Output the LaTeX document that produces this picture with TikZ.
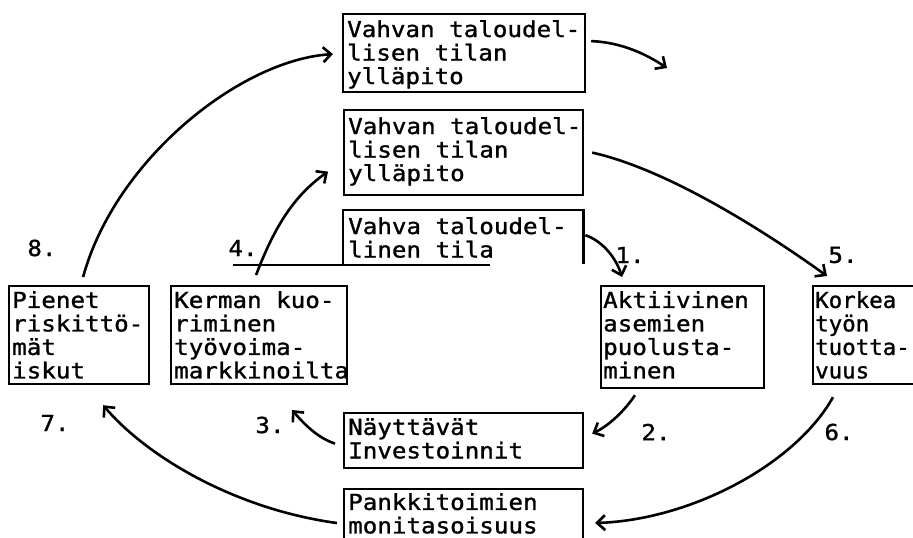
\documentclass[tikz,border=0pt]{standalone}
\usepackage{fontspec}
\newfontfamily\plotfont[FakeStretch=1.1,FakeBold=1.2]{DejaVu Sans Mono}
\newfontfamily\plotnarrow[FakeStretch=1.02,FakeBold=1.2]{DejaVu Sans Mono}
\usetikzlibrary{arrows.meta}
\tikzset{
  box/.style={draw, line width=2.2pt, anchor=north west, inner sep=0pt},
  txt/.style={anchor=north west, align=left, inner sep=0pt, font=\plotfont\fontsize{22}{23.5}\selectfont},
  num/.style={inner sep=0pt, font=\plotfont\fontsize{22}{24}\selectfont},
  arr/.style={line width=2.6pt, -{Straight Barb[length=8pt,width=15pt,line width=2.6pt]}},
  ln/.style={line width=2.2pt}
}
\begin{document}
\begin{tikzpicture}[x=1pt,y=-1pt]
\useasboundingbox (0,0) rectangle (913,538);
% boxes
\node[box, minimum width=242, minimum height=78] (A) at (342,13) {};
\node[txt] (At) at ([shift={(5,7)}]A.north west) {Vahvan taloudel-\\lisen tilan\\ylläpito};
\node[box, minimum width=239, minimum height=85] (B) at (343,109) {};
\node[txt] (Bt) at ([shift={(5,8)}]B.north west) {Vahvan taloudel-\\lisen tilan\\ylläpito};
\node[anchor=north west, inner sep=0pt, minimum width=240, minimum height=54] (C) at (343,210) {};
\draw[ln] (C.south east) -- (C.north east) -- (C.north west) -- (C.south west);
\coordinate (l4s) at (233,265);
\coordinate (l4e) at (490,265);
\draw[ln] (l4s) -- (l4e);
\node[txt] (Ct) at ([shift={(5,7)}]C.north west) {Vahva taloudel-\\linen tila};
\node[box, minimum width=140, minimum height=98] (pi) at (8,285) {};
\node[txt] (pit) at ([shift={(4,6)}]pi.north west) {Pienet\\riskittö-\\mät\\iskut};
\node[box, minimum width=176, minimum height=98] (ke) at (170,285) {};
\node[txt] (ket) at ([shift={(4,6)}]ke.north west) {Kerman kuo-\\riminen\\työvoima-\\markkinoilta};
\node[box, minimum width=163, minimum height=102] (ak) at (600,285) {};
\node[txt] (akt) at ([shift={(3,6)}]ak.north west) {Aktiivinen\\asemien\\puolusta-\\minen};
\node[box, minimum width=103, minimum height=98] (ko) at (812,285) {};
\node[txt, font=\plotnarrow\fontsize{22}{23.5}\selectfont] (kot) at ([shift={(3,6)}]ko.north west) {Korkea\\työn\\tuotta-\\vuus};
\node[box, minimum width=239, minimum height=55] (ny) at (343,412) {};
\node[txt] (nyt) at ([shift={(5,6)}]ny.north west) {Näyttävät\\Investoinnit};
\node[box, minimum width=239, minimum height=58] (pa) at (343,488) {};
\node[txt] (pat) at ([shift={(5,5)}]pa.north west) {Pankkitoimien\\monitasoisuus};
% numbers
\node[num] (n8) at (42,248) {8.};
\node[num] (n4) at (243,248) {4.};
\node[num] (n1) at (630,255) {1.};
\node[num] (n5) at (843,255) {5.};
\node[num] (n7) at (55,423) {7.};
\node[num] (n3) at (270,425) {3.};
\node[num] (n2) at (656,432) {2.};
\node[num] (n6) at (839,432) {6.};
% arrows
\draw[arr] ([shift={(4,-8)}]pi.north) .. controls (115,160) and (240,60) .. ([shift={(-9,1)}]A.west);
\draw[arr] ([shift={(5,-12)}]A.east) .. controls (615,42) and (640,50) .. (667,68);
\draw[arr] ([shift={(-3,-10)}]ke.north) .. controls (275,225) and (295,195) .. ([shift={(-15,19)}]B.west);
\draw[arr] ([shift={(8,0)}]B.east) .. controls (670,170) and (770,235) .. ([shift={(15,-9)}]ko.north west);
\draw[arr] ([shift={(2,-2)}]C.east) .. controls (600,240) and (615,255) .. ([shift={(22,-8)}]ak.north west);
\draw[arr] ([shift={(35,6)}]ak.south west) .. controls (625,410) and (610,425) .. ([shift={(8,-7)}]ny.east);
\draw[arr] ([shift={(-8,3)}]ny.west) .. controls (318,438) and (305,425) .. (292,410);
\draw[arr] ([shift={(21,12)}]ko.south west) .. controls (795,465) and (690,520) .. ([shift={(11,35)}]pa.north east);
\draw[arr] ([shift={(-6,35)}]pa.north west) .. controls (240,510) and (150,460) .. ([shift={(24,20)}]pi.south);
\end{tikzpicture}
\end{document}
